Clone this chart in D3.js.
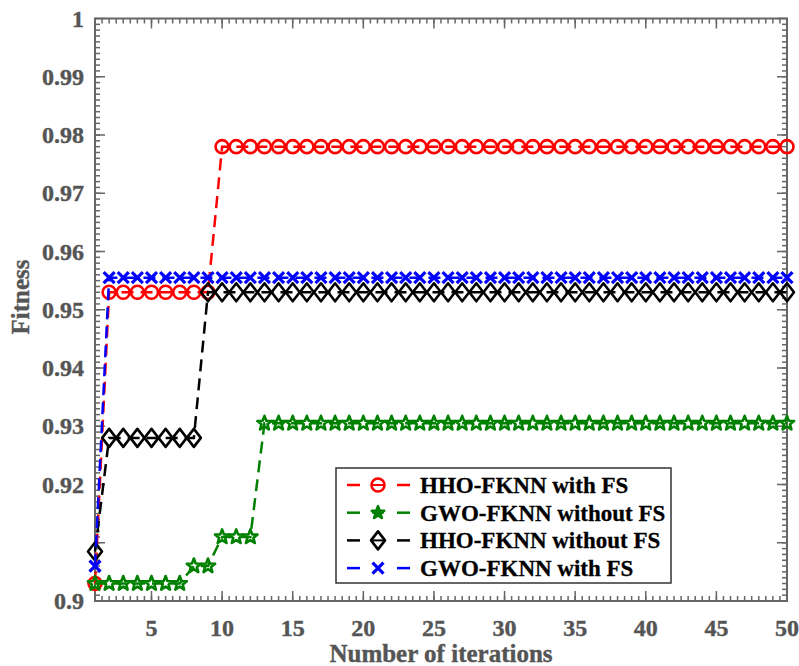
<!DOCTYPE html>
<html>
<head>
<meta charset="utf-8">
<script src="https://cdn.jsdelivr.net/npm/d3@7"></script>
<style>
  body { margin: 0; background: #fff; }
  svg text { font-family: "Liberation Serif", "Times New Roman", serif; font-weight: bold; }
</style>
</head>
<body>
<div id="chart-container"></div>
<script>
// iteration numbers (x categories)
var iterations = [1,2,3,4,5,6,7,8,9,10,11,12,13,14,15,16,17,18,19,20,21,22,23,24,25,
                  26,27,28,29,30,31,32,33,34,35,36,37,38,39,40,41,42,43,44,45,46,47,48,49,50];

// fitness per iteration
var hhoWithFs = [0.903,
  0.953,0.953,0.953,0.953,0.953,0.953,0.953,0.953,
  0.978,0.978,0.978,0.978,0.978,0.978,0.978,0.978,0.978,0.978,0.978,0.978,0.978,0.978,
  0.978,0.978,0.978,0.978,0.978,0.978,0.978,0.978,0.978,0.978,0.978,0.978,0.978,0.978,
  0.978,0.978,0.978,0.978,0.978,0.978,0.978,0.978,0.978,0.978,0.978,0.978,0.978];
var gwoWithoutFs = [0.903,0.903,0.903,0.903,0.903,0.903,0.903,
  0.906,0.906,
  0.911,0.911,0.911,
  0.9305,0.9305,0.9305,0.9305,0.9305,0.9305,0.9305,0.9305,0.9305,0.9305,0.9305,0.9305,
  0.9305,0.9305,0.9305,0.9305,0.9305,0.9305,0.9305,0.9305,0.9305,0.9305,0.9305,0.9305,
  0.9305,0.9305,0.9305,0.9305,0.9305,0.9305,0.9305,0.9305,0.9305,0.9305,0.9305,0.9305,
  0.9305,0.9305];
var hhoWithoutFs = [0.9085,
  0.928,0.928,0.928,0.928,0.928,0.928,0.928,
  0.953,0.953,0.953,0.953,0.953,0.953,0.953,0.953,0.953,0.953,0.953,0.953,0.953,0.953,
  0.953,0.953,0.953,0.953,0.953,0.953,0.953,0.953,0.953,0.953,0.953,0.953,0.953,0.953,
  0.953,0.953,0.953,0.953,0.953,0.953,0.953,0.953,0.953,0.953,0.953,0.953,0.953,0.953];
var gwoWithFs = [0.906,
  0.9555,0.9555,0.9555,0.9555,0.9555,0.9555,0.9555,0.9555,0.9555,0.9555,0.9555,0.9555,
  0.9555,0.9555,0.9555,0.9555,0.9555,0.9555,0.9555,0.9555,0.9555,0.9555,0.9555,0.9555,
  0.9555,0.9555,0.9555,0.9555,0.9555,0.9555,0.9555,0.9555,0.9555,0.9555,0.9555,0.9555,
  0.9555,0.9555,0.9555,0.9555,0.9555,0.9555,0.9555,0.9555,0.9555,0.9555,0.9555,0.9555,
  0.9555];

var seriesNames = ['HHO-FKNN with FS', 'GWO-FKNN without FS', 'HHO-FKNN without FS', 'GWO-FKNN with FS'];
var seriesValues = [hhoWithFs, gwoWithoutFs, hhoWithoutFs, gwoWithFs];
var seriesColors = ['#ff0000', '#008000', '#000000', '#0000ff'];
var seriesMarkers = ['circle', 'star', 'diamond', 'cross'];

var xTicks = [5,10,15,20,25,30,35,40,45,50];
var yTicks = [0.9,0.91,0.92,0.93,0.94,0.95,0.96,0.97,0.98,0.99,1];
// the figure prints no label at 0.91
var yTickLabels = ['0.9','','0.92','0.93','0.94','0.95','0.96','0.97','0.98','0.99','1'];

var width = 799, height = 666;
var plotLeft = 95, plotRight = 787, plotTop = 18.5, plotBottom = 601;

var svg = d3.select('#chart-container')
            .append('svg')
            .attr('width', width)
            .attr('height', height);

var x = d3.scaleLinear().domain([1, 50]).range([plotLeft, plotRight]);
var y = d3.scaleLinear().domain([0.9, 1]).range([plotBottom, plotTop]);

var axisColor = '#666';

// minor ticks: every half iteration, every 0.001 fitness
var xMinor = d3.range(3, 100).map(function(d) { return d * 0.5; });
var yMinor = d3.range(1, 100).map(function(d) { return 0.9 + d * 0.001; });

function tickLines(g, data, fn) {
  g.append('g')
   .selectAll('line')
   .data(data)
   .enter()
   .append('line')
     .each(fn)
     .attr('stroke', axisColor)
     .attr('stroke-width', 1.5);
}

var ticks = svg.append('g');
// bottom + top
tickLines(ticks, xMinor, function(d) {
  d3.select(this).attr('x1', x(d)).attr('x2', x(d)).attr('y1', plotBottom).attr('y2', plotBottom - 5); });
tickLines(ticks, xMinor, function(d) {
  d3.select(this).attr('x1', x(d)).attr('x2', x(d)).attr('y1', plotTop).attr('y2', plotTop + 5); });
tickLines(ticks, xTicks, function(d) {
  d3.select(this).attr('x1', x(d)).attr('x2', x(d)).attr('y1', plotBottom).attr('y2', plotBottom - 10); });
tickLines(ticks, xTicks, function(d) {
  d3.select(this).attr('x1', x(d)).attr('x2', x(d)).attr('y1', plotTop).attr('y2', plotTop + 10); });
// left + right
tickLines(ticks, yMinor, function(d) {
  d3.select(this).attr('x1', plotLeft).attr('x2', plotLeft + 5).attr('y1', y(d)).attr('y2', y(d)); });
tickLines(ticks, yMinor, function(d) {
  d3.select(this).attr('x1', plotRight).attr('x2', plotRight - 5).attr('y1', y(d)).attr('y2', y(d)); });
tickLines(ticks, yTicks, function(d) {
  d3.select(this).attr('x1', plotLeft).attr('x2', plotLeft + 10).attr('y1', y(d)).attr('y2', y(d)); });
tickLines(ticks, yTicks, function(d) {
  d3.select(this).attr('x1', plotRight).attr('x2', plotRight - 10).attr('y1', y(d)).attr('y2', y(d)); });

svg.append('rect')
   .attr('x', plotLeft)
   .attr('y', plotTop)
   .attr('width', plotRight - plotLeft)
   .attr('height', plotBottom - plotTop)
   .attr('fill', 'none')
   .attr('stroke', axisColor)
   .attr('stroke-width', 2);

// tick labels
svg.selectAll('text.ylab')
   .data(yTicks)
   .enter()
   .append('text')
     .attr('class', 'ylab')
     .attr('x', plotLeft - 11)
     .attr('y', function(d) { return y(d) + 8; })
     .attr('text-anchor', 'end')
     .attr('font-size', 24)
     .attr('fill', '#555')
     .attr('stroke', '#555')
     .attr('stroke-width', 0.4)
     .text(function(d, i) { return yTickLabels[i]; });

svg.selectAll('text.xlab')
   .data(xTicks)
   .enter()
   .append('text')
     .attr('class', 'xlab')
     .attr('x', function(d) { return x(d); })
     .attr('y', 636)
     .attr('text-anchor', 'middle')
     .attr('font-size', 24)
     .attr('fill', '#555')
     .attr('stroke', '#555')
     .attr('stroke-width', 0.4)
     .text(function(d) { return d; });

svg.append('text')
   .attr('x', 441)
   .attr('y', 662)
   .attr('text-anchor', 'middle')
   .attr('font-size', 25)
   .attr('fill', '#555')
   .attr('stroke', '#555')
   .attr('stroke-width', 0.4)
   .text('Number of iterations');

svg.append('text')
   .attr('transform', 'translate(29,297) rotate(-90)')
   .attr('text-anchor', 'middle')
   .attr('font-size', 25)
   .attr('fill', '#555')
   .attr('stroke', '#555')
   .attr('stroke-width', 0.4)
   .text('Fitness');

// marker shapes
function starPath(r) {
  var pts = [];
  for (var k = 0; k < 10; k++) {
    var rr = k % 2 ? r * 0.42 : r;
    var a = -Math.PI / 2 + k * Math.PI / 5;
    pts.push([rr * Math.cos(a), rr * Math.sin(a)]);
  }
  return 'M' + pts.map(function(p) { return p[0].toFixed(2) + ',' + p[1].toFixed(2); }).join('L') + 'Z';
}
function markerPath(type, small) {
  if (type === 'circle') return 'M-6.5,0A6.5,6.5 0 1,0 6.5,0A6.5,6.5 0 1,0 -6.5,0Z';
  if (type === 'diamond') return 'M0,-9L7,0L0,9L-7,0Z';
  if (type === 'cross') return 'M-5.5,-5.5L5.5,5.5M-5.5,5.5L5.5,-5.5';
  return starPath(small ? 6.5 : 7.5);
}

var line = d3.line()
             .x(function(d) { return x(d.i); })
             .y(function(d) { return y(d.v); });

seriesValues.forEach(function(vals, s) {
  var pts = vals.map(function(v, k) { return { i: iterations[k], v: v }; });
  var g = svg.append('g');
  g.append('path')
   .datum(pts)
   .attr('d', line)
   .attr('fill', 'none')
   .attr('stroke', seriesColors[s])
   .attr('stroke-width', 2.5)
   .attr('stroke-dasharray', '12,7');
  g.selectAll('path.mk')
   .data(pts)
   .enter()
   .append('path')
     .attr('class', 'mk')
     .attr('transform', function(d) { return 'translate(' + x(d.i) + ',' + y(d.v) + ')'; })
     .attr('d', markerPath(seriesMarkers[s]))
     .attr('fill', 'none')
     .attr('stroke', seriesColors[s])
     .attr('stroke-linejoin', 'round')
     .attr('stroke-width', seriesMarkers[s] === 'cross' ? 3.2 : 2.6);
});

// legend
var legend = svg.append('g');
legend.append('rect')
      .attr('x', 336)
      .attr('y', 468)
      .attr('width', 335)
      .attr('height', 115)
      .attr('fill', '#fff')
      .attr('stroke', '#333')
      .attr('stroke-width', 1.5);

var rows = legend.selectAll('g.row')
                 .data(seriesNames)
                 .enter()
                 .append('g')
                   .attr('class', 'row')
                   .attr('transform', function(d, i) { return 'translate(0,' + (485 + i * 27.7) + ')'; });

rows.append('line')
    .attr('x1', 347).attr('x2', 360).attr('y1', 0).attr('y2', 0)
    .attr('stroke', function(d, i) { return seriesColors[i]; })
    .attr('stroke-width', 2.5);
rows.append('line')
    .attr('x1', 397).attr('x2', 410).attr('y1', 0).attr('y2', 0)
    .attr('stroke', function(d, i) { return seriesColors[i]; })
    .attr('stroke-width', 2.5);
rows.append('line')
    .attr('x1', 372).attr('x2', 384).attr('y1', 0).attr('y2', 0)
    .attr('stroke', function(d, i) { return seriesColors[i]; })
    .attr('stroke-width', function(d, i) { return seriesMarkers[i] === 'cross' ? 0 : 2; });
rows.append('path')
    .attr('transform', 'translate(378,0)')
    .attr('d', function(d, i) { return markerPath(seriesMarkers[i], true); })
    .attr('fill', function(d, i) { return seriesMarkers[i] === 'star' ? seriesColors[i] : 'none'; })
    .attr('stroke', function(d, i) { return seriesColors[i]; })
    .attr('stroke-linejoin', 'round')
    .attr('stroke-width', function(d, i) { return seriesMarkers[i] === 'cross' ? 3.2 : 2.6; });
rows.append('text')
    .attr('x', 420)
    .attr('y', 8)
    .attr('font-size', 23)
    .attr('fill', '#000')
    .attr('stroke', '#000')
    .attr('stroke-width', 0.3)
    .text(function(d) { return d; });
</script>
</body>
</html>
